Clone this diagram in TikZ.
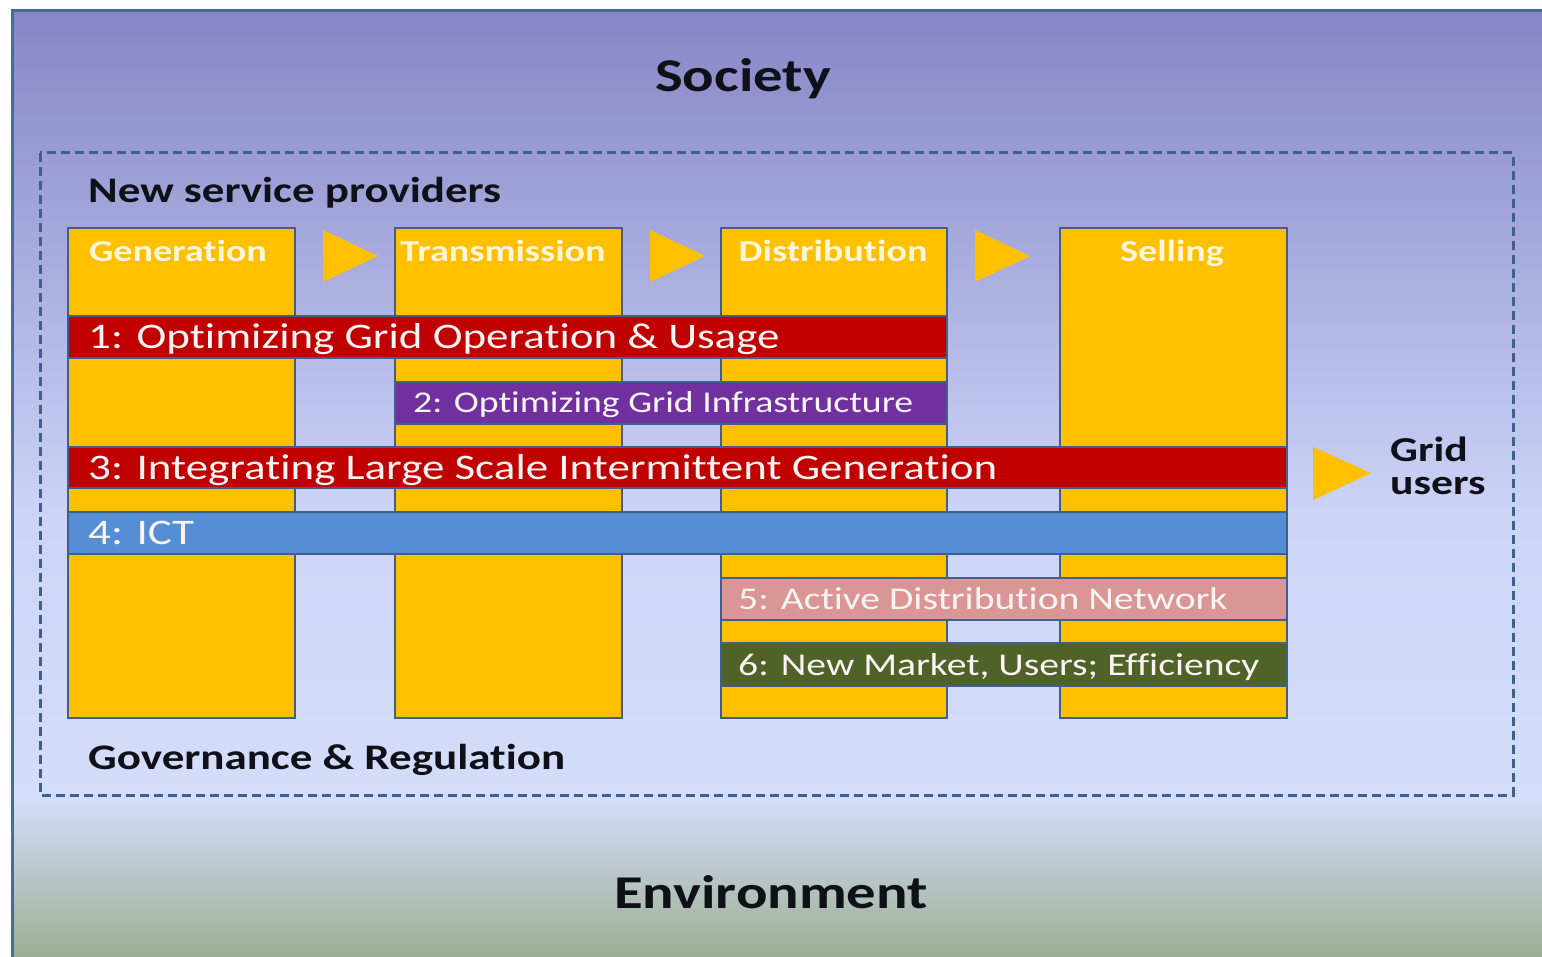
\documentclass[tikz,border=0pt]{standalone}
\usepackage{fontspec}
\setmainfont{Carlito}[FakeStretch=1.25, Ligatures=NoCommon]
\definecolor{cyellow}{HTML}{FFC000}
\definecolor{cborder}{HTML}{3F5F8C}
\definecolor{cframe}{HTML}{4A6A98}
\definecolor{cred}{HTML}{C00000}
\definecolor{cpurple}{HTML}{7030A0}
\definecolor{cblue}{HTML}{558ED5}
\definecolor{cpink}{HTML}{D99694}
\definecolor{cgreen}{HTML}{4F6228}
\definecolor{bgtop}{HTML}{8686C6}
\definecolor{bgmid}{HTML}{CDD5F7}
\definecolor{bglow}{HTML}{D4DDF9}
\definecolor{bgbot}{HTML}{9CAE94}
\definecolor{ctext}{HTML}{101018}
\definecolor{clabel}{HTML}{FFF6DA}
\definecolor{cbartext}{HTML}{FAF4F4}
\tikzset{
  colbox/.style={fill=cyellow, draw=cborder, line width=2.6pt},
  barbox/.style={draw=cborder, line width=2.6pt},
  arrowtri/.style={fill=cyellow},
  bigtitle/.style={font=\fontsize{47}{50}\selectfont\bfseries, text=ctext, inner sep=0pt, anchor=base},
  lbl/.style={font=\fontsize{36}{38}\selectfont\bfseries, text=ctext, inner sep=0pt, anchor=base west},
  coltext/.style={font=\fontsize{30.5}{32}\selectfont\bfseries, text=clabel, inner sep=0pt, anchor=base},
  bartext/.style={font=\fontsize{36}{38}\selectfont, text=cbartext, inner sep=0pt, anchor=base west},
  bartextsmall/.style={font=\fontsize{30.2}{33}\selectfont, text=cbartext, inner sep=0pt, anchor=base west},
  bartextmid/.style={font=\fontsize{31.7}{34}\selectfont, text=cbartext, inner sep=0pt, anchor=base west},
}
\begin{document}
\begin{tikzpicture}[x=1pt,y=-1pt]
\useasboundingbox (0,0) rectangle (1542,957);
\fill[white] (0,0) rectangle (1542,957);
% background gradient
\shade[top color=bgtop, bottom color=bgmid] (12,11) rectangle (1542,521);
\shade[top color=bgmid, bottom color=bglow] (12,520) rectangle (1542,801);
\shade[top color=bglow, bottom color=bgbot] (12,800) rectangle (1542,957);
\draw[cframe, line width=3pt] (1570,11) -- (12,11) -- (12,980);
% dashed box
\draw[cborder, line width=3pt, dash pattern=on 9pt off 5pt] (40,153) rectangle (1513,795);
% titles
\node[bigtitle] (society) at (743,92) {Society};
\node[bigtitle] (environment) at (771,908) {Environment};
\node[lbl] (nsp) at (88,203) {New service providers};
\node[lbl] (gov) at (88,769) {Governance \& Regulation};
\node[lbl, font=\fontsize{35}{33.5}\selectfont\bfseries, align=left, anchor=north west] (gridusers) at (1390,436.5) {Grid\\users};
% columns
\draw[colbox] (68,228) rectangle (295,718);
\draw[colbox] (395,228) rectangle (622,718);
\draw[colbox] (721,228) rectangle (947,718);
\draw[colbox] (1060,228) rectangle (1287,718);
\node[coltext] (gen) at (178,262) {Generation};
\node[coltext] (trans) at (503,262) {Transmission};
\node[coltext] (dist) at (833,262) {Distribution};
\node[coltext] (sell) at (1172,262) {Selling};
% flow triangles
\fill[arrowtri] (323,230) -- (378,256) -- (323,282) -- cycle;
\fill[arrowtri] (650,230) -- (705,256) -- (650,282) -- cycle;
\fill[arrowtri] (975,230) -- (1030,256) -- (975,282) -- cycle;
\fill[arrowtri] (1313,447) -- (1371,473) -- (1313,500) -- cycle;
% bars
\draw[barbox, fill=cred] (68,316) rectangle (947,358);
\node[bartext] (b1) at (88,348.5) {1: Optimizing Grid Operation \& Usage};
\draw[barbox, fill=cpurple] (395,382) rectangle (947,424);
\node[bartextsmall] (b2) at (413,413) {2: Optimizing Grid Infrastructure};
\draw[barbox, fill=cred] (68,447) rectangle (1287,488);
\node[bartext] (b3) at (88,479) {3: Integrating Large Scale Intermittent Generation};
\draw[barbox, fill=cblue] (68,512) rectangle (1287,554);
\node[bartext] (b4) at (88,544.5) {4: ICT};
\draw[barbox, fill=cpink] (721,578) rectangle (1287,620);
\node[bartextmid] (b5) at (738,609) {5: Active Distribution Network};
\draw[barbox, fill=cgreen] (721,643) rectangle (1287,686);
\node[bartextmid] (b6) at (738,675) {6: New Market, Users; Efficiency};
\end{tikzpicture}
\end{document}
